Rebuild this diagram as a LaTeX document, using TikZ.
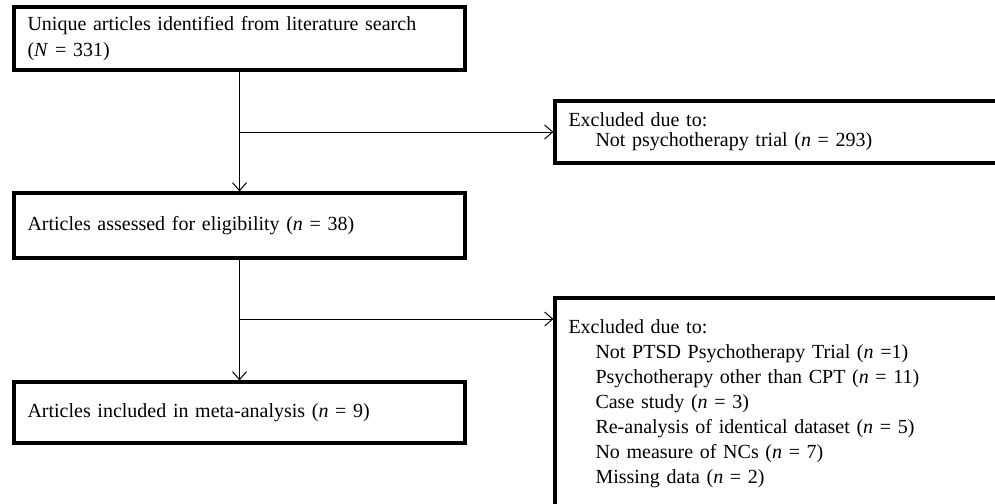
\documentclass[tikz,border=0pt]{standalone}
\usepackage{fontspec}
\setmainfont{Liberation Serif}
\usetikzlibrary{arrows.meta}
\begin{document}
\begin{tikzpicture}[x=0.5pt,y=-0.5pt,
  box/.style={draw,line width=1.6pt,rectangle,align=left,inner xsep=6pt,inner ysep=0pt,
    font=\fontsize{10}{13}\selectfont},
  conn/.style={line width=0.5pt},
  arr/.style={conn,-{Straight Barb[length=4pt,width=7pt,line width=0.5pt]}}]
\useasboundingbox (0,0) rectangle (995,503);
\clip (0,0) rectangle (995,503);
\node[box,minimum width=225.5pt,minimum height=31.5pt,text width=212pt] (A) at (239.5,38.5)
  {Unique articles identified from literature search\\(\textit{N} = 331)};
\node[box,minimum width=225.5pt,minimum height=32.5pt,text width=212pt] (B) at (239.5,225.5)
  {Articles assessed for eligibility (\textit{n} = 38)};
\node[box,minimum width=225.5pt,minimum height=30.5pt,text width=212pt] (C) at (239.5,412.5)
  {Articles included in meta-analysis (\textit{n} = 9)};
\node[box,minimum width=222.5pt,minimum height=31pt,text width=209pt,
  font=\fontsize{10}{10}\selectfont] (E1) at (777.5,132)
  {Excluded due to:\\\hspace*{13.5pt}Not psychotherapy trial (\textit{n} = 293)};
\node[box,minimum width=222.5pt,minimum height=105.5pt,text width=209pt,
  font=\fontsize{10}{12.5}\selectfont] (E2) at (777.5,403.5)
  {Excluded due to:\\
   \hspace*{13.5pt}Not PTSD Psychotherapy Trial (\textit{n} =1)\\
   \hspace*{13.5pt}Psychotherapy other than CPT (\textit{n} = 11)\\
   \hspace*{13.5pt}Case study (\textit{n} = 3)\\
   \hspace*{13.5pt}Re-analysis of identical dataset (\textit{n} = 5)\\
   \hspace*{13.5pt}No measure of NCs (\textit{n} = 7)\\
   \hspace*{13.5pt}Missing data (\textit{n} = 2)};
\coordinate (j1) at (239.5,132);
\coordinate (j2) at (239.5,319);
\draw[arr] (A.south) -- (B.north);
\draw[arr] (B.south) -- (C.north);
\draw[arr] (j1) -- (E1.west);
\draw[arr] (j2) -- (j2 -| E2.west);
\end{tikzpicture}
\end{document}
